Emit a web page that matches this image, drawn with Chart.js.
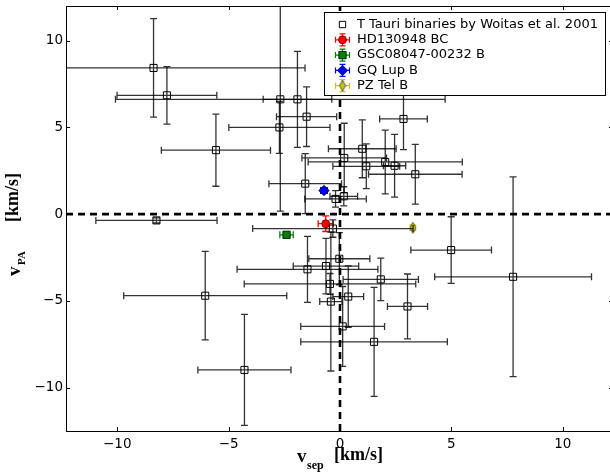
<!DOCTYPE html>
<html>
<head>
<meta charset="utf-8">
<script src="https://cdn.jsdelivr.net/npm/chart.js@4.4.1/dist/chart.umd.min.js"></script>
<style>
  html, body { margin: 0; padding: 0; overflow: hidden; background: #fff; }
</style>
</head>
<body>
<canvas id="myChart" width="620" height="476"></canvas>
<script>
// T Tauri binaries (Woitas et al. 2001): v_sep, v_PA and their errors [km/s]
var tt_x    = [-8.37, -7.77, -5.57, -2.68, -1.91, -2.72, -1.50, 2.85, 1.00, 0.19, 1.18, 2.03, 2.45, 3.38, -1.56, -0.20, 0.17,
               -8.24, -0.32, 4.99, 7.77, -0.03, -0.63, -1.46, 1.83, -0.45, 0.37, -0.41, 0.12, 1.53, 3.03, -6.05, -4.29];
var tt_y    = [8.43, 6.85, 3.69, 6.62, 6.62, 5.00, 5.62, 5.49, 3.77, 3.24, 2.76, 3.01, 2.79, 2.30, 1.76, 0.88, 1.03,
               -0.36, -0.83, -2.07, -3.61, -2.57, -2.99, -3.18, -3.76, -4.02, -4.75, -5.04, -6.47, -7.36, -5.32, -4.70, -8.98];
var tt_xerr = [6.80, 2.24, 2.45, 7.40, 1.54, 2.27, 1.35, 1.07, 1.52, 1.90, 1.50, 3.46, 0.50, 2.10, 1.63, 1.38, 0.62,
               2.72, 3.60, 1.81, 3.52, 1.37, 1.47, 3.16, 1.69, 3.85, 0.69, 0.50, 1.88, 3.29, 0.90, 3.66, 2.09];
var tt_yerr = [2.84, 1.66, 2.08, 6.45, 2.77, 1.50, 1.72, 1.77, 1.67, 2.00, 1.29, 1.84, 1.81, 1.72, 1.73, 0.48, 0.55,
               0.15, 0.50, 1.92, 5.76, 1.50, 1.60, 1.90, 1.22, 0.60, 1.77, 4.00, 2.30, 3.14, 1.87, 2.55, 3.20];

// companions
var hd_x = [-0.64], hd_y = [-0.55], hd_xerr = [0.34], hd_yerr = [0.45];
var gsc_x = [-2.40], gsc_y = [-1.19], gsc_xerr = [0.30], gsc_yerr = [0.10];
var gq_x = [-0.72], gq_y = [1.36], gq_xerr = [0.15], gq_yerr = [0.15];
var pz_x = [3.27], pz_y = [-0.79], pz_xerr = [0.08], pz_yerr = [0.15];

var labels = ['T Tauri binaries by Woitas et al. 2001', 'HD130948 BC', 'GSC08047-00232 B', 'GQ Lup B', 'PZ Tel B'];
var xTicks = [-10, -5, 0, 5, 10];
var yTicks = [-10, -5, 0, 5, 10];
var xMin = -12.3, xMax = 12.3, yMin = -12.5, yMax = 12;

function pts(xs, ys) {
  return xs.map(function (x, i) { return { x: x, y: ys[i] }; });
}

function minus(v) {
  return v < 0 ? '\u2212' + Math.abs(v) : String(v);
}

// thin diamond marker for PZ Tel B
function thinDiamond(w, h, fill) {
  var c = document.createElement('canvas');
  c.width = w + 2; c.height = h + 2;
  var g = c.getContext('2d');
  g.beginPath();
  g.moveTo(c.width / 2, 1);
  g.lineTo(c.width - 1, c.height / 2);
  g.lineTo(c.width / 2, c.height - 1);
  g.lineTo(1, c.height / 2);
  g.closePath();
  g.fillStyle = fill; g.fill();
  g.lineWidth = 0.8; g.strokeStyle = '#333'; g.stroke();
  return c;
}
var pzMarker = thinDiamond(6, 11, 'rgb(200,200,0)');

// draw the error bars of a dataset just below its markers
var errorBars = {
  id: 'errorBars',
  beforeDatasetDraw: function (chart, args) {
    var ds = chart.data.datasets[args.index];
    if (!ds.errX) return;
    var xs = chart.scales.x, ys = chart.scales.y, ctx = chart.ctx, a = chart.chartArea;
    var cap = 3.5;
    ctx.save();
    ctx.beginPath();
    ctx.rect(a.left, a.top, a.right - a.left, a.bottom - a.top);
    ctx.clip();
    ctx.strokeStyle = ds.errColor;
    ctx.lineWidth = 1.3;
    ds.data.forEach(function (p, i) {
      var px = xs.getPixelForValue(p.x), py = ys.getPixelForValue(p.y);
      var x0 = xs.getPixelForValue(p.x - ds.errX[i]), x1 = xs.getPixelForValue(p.x + ds.errX[i]);
      var y0 = ys.getPixelForValue(p.y - ds.errY[i]), y1 = ys.getPixelForValue(p.y + ds.errY[i]);
      ctx.beginPath();
      ctx.moveTo(x0, py); ctx.lineTo(x1, py);
      ctx.moveTo(x0, py - cap); ctx.lineTo(x0, py + cap);
      ctx.moveTo(x1, py - cap); ctx.lineTo(x1, py + cap);
      ctx.moveTo(px, y0); ctx.lineTo(px, y1);
      ctx.moveTo(px - cap, y0); ctx.lineTo(px + cap, y0);
      ctx.moveTo(px - cap, y1); ctx.lineTo(px + cap, y1);
      ctx.stroke();
    });
    ctx.restore();
  }
};

function drawMarker(ctx, ds, x, y) {
  ctx.save();
  ctx.fillStyle = ds.pointBackgroundColor;
  ctx.strokeStyle = ds.pointBorderColor;
  ctx.lineWidth = ds.pointBorderWidth;
  var r = ds.pointRadius;
  if (ds.pointStyle === 'rect') {
    var s = r * Math.SQRT1_2;
    ctx.beginPath(); ctx.rect(x - s, y - s, 2 * s, 2 * s);
    ctx.fill(); ctx.stroke();
  } else if (ds.pointStyle === 'circle') {
    ctx.beginPath(); ctx.arc(x, y, r, 0, Math.PI * 2);
    ctx.fill(); ctx.stroke();
  } else if (ds.pointStyle === 'rectRot') {
    ctx.beginPath();
    ctx.moveTo(x, y - r); ctx.lineTo(x + r, y); ctx.lineTo(x, y + r); ctx.lineTo(x - r, y);
    ctx.closePath(); ctx.fill(); ctx.stroke();
  } else {
    ctx.drawImage(ds.pointStyle, x - ds.pointStyle.width / 2, y - ds.pointStyle.height / 2);
  }
  ctx.restore();
}

// frame, inward ticks, legend, axis titles
var decorations = {
  id: 'decorations',
  afterDraw: function (chart) {
    var ctx = chart.ctx, a = chart.chartArea;
    var xs = chart.scales.x, ys = chart.scales.y;
    ctx.save();
    ctx.strokeStyle = '#000';
    ctx.lineWidth = 1;
    ctx.strokeRect(Math.round(a.left) + 0.5, Math.round(a.top) + 0.5,
                   Math.round(a.right - a.left) - 1, Math.round(a.bottom - a.top));
    ctx.beginPath();
    xTicks.forEach(function (v) {
      var px = Math.round(xs.getPixelForValue(v)) + 0.5;
      ctx.moveTo(px, a.bottom); ctx.lineTo(px, a.bottom - 4);
      ctx.moveTo(px, a.top); ctx.lineTo(px, a.top + 4);
    });
    yTicks.forEach(function (v) {
      var py = Math.round(ys.getPixelForValue(v)) + 0.5;
      ctx.moveTo(a.left, py); ctx.lineTo(a.left + 4, py);
      ctx.moveTo(a.right - 1, py); ctx.lineTo(a.right - 5, py);
    });
    ctx.stroke();

    // legend
    var lx = 324.5, ly = 12.5, lw = 281, lh = 83;
    ctx.fillStyle = '#fff';
    ctx.fillRect(lx, ly, lw, lh);
    ctx.strokeRect(lx, ly, lw, lh);
    ctx.font = '13px "DejaVu Sans"';
    ctx.textBaseline = 'middle';
    ctx.textAlign = 'left';
    chart.data.datasets.forEach(function (ds, i) {
      if (!ds.label) return;
      var ry = 24.5 + i * 15.3, mx = 342.5;
      if (ds.errX && i > 0) {
        ctx.strokeStyle = ds.errColor;
        ctx.lineWidth = 1.2;
        ctx.beginPath();
        ctx.moveTo(mx - 7, ry); ctx.lineTo(mx + 7, ry);
        ctx.moveTo(mx - 7, ry - 3); ctx.lineTo(mx - 7, ry + 3);
        ctx.moveTo(mx + 7, ry - 3); ctx.lineTo(mx + 7, ry + 3);
        ctx.moveTo(mx, ry - 6); ctx.lineTo(mx, ry + 6);
        ctx.moveTo(mx - 3, ry - 6); ctx.lineTo(mx + 3, ry - 6);
        ctx.moveTo(mx - 3, ry + 6); ctx.lineTo(mx + 3, ry + 6);
        ctx.stroke();
      }
      drawMarker(ctx, Object.assign({}, ds, { pointBackgroundColor: i === 0 ? '#fff' : ds.pointBackgroundColor,
                                               pointRadius: i === 0 ? 4.5 : ds.pointRadius }), mx, ry);
      ctx.fillStyle = '#000';
      ctx.fillText(ds.label, 357, ry);
    });

    // axis titles
    ctx.fillStyle = '#000';
    ctx.textBaseline = 'alphabetic';
    ctx.font = 'bold 19px "Liberation Serif"';
    ctx.fillText('v', 297, 462);
    ctx.font = 'bold 12px "Liberation Serif"';
    ctx.fillText('sep', 307, 469);
    ctx.font = 'bold 18px "Liberation Serif"';
    ctx.fillText('[km/s]', 334, 459.5);

    ctx.translate(20, 276);
    ctx.rotate(-Math.PI / 2);
    ctx.font = 'bold 19px "Liberation Serif"';
    ctx.fillText('v', 0, 0);
    ctx.font = 'bold 11px "Liberation Serif"';
    ctx.fillText('PA', 11, 5);
    ctx.font = 'bold 18px "Liberation Serif"';
    ctx.fillText('[km/s]', 54, -2.5);
    ctx.restore();
  }
};

function refLine(x0, y0, x1, y1) {
  return {
    type: 'line',
    data: [{ x: x0, y: y0 }, { x: x1, y: y1 }],
    borderColor: '#000',
    borderWidth: 2.6,
    borderDash: [7, 5],
    pointRadius: 0,
    order: 10
  };
}

function errSet(label, xs, ys, xe, ye, color, style, radius, fill, edge) {
  return {
    label: label,
    data: pts(xs, ys),
    errX: xe, errY: ye,
    errColor: color,
    pointStyle: style,
    pointRadius: radius,
    pointBackgroundColor: fill,
    pointBorderColor: edge,
    pointBorderWidth: 0.8,
    showLine: false
  };
}

var datasets = [
  errSet(labels[0], tt_x, tt_y, tt_xerr, tt_yerr, 'rgba(0,0,0,0.8)', 'rect', 5, 'rgba(0,0,0,0)', '#000'),
  errSet(labels[1], hd_x, hd_y, hd_xerr, hd_yerr, 'rgb(255,0,0)', 'circle', 4, 'rgb(255,0,0)', '#600'),
  errSet(labels[2], gsc_x, gsc_y, gsc_xerr, gsc_yerr, 'rgb(0,128,0)', 'rect', 5.2, 'rgb(0,128,0)', '#000'),
  errSet(labels[3], gq_x, gq_y, gq_xerr, gq_yerr, 'rgb(0,0,255)', 'rectRot', 5.2, 'rgb(0,0,255)', '#003'),
  errSet(labels[4], pz_x, pz_y, pz_xerr, pz_yerr, 'rgb(200,200,0)', pzMarker, 5, 'rgb(200,200,0)', '#333'),
  refLine(xMin, 0, xMax, 0),
  refLine(0, yMin, 0, yMax)
];
datasets[0].pointBorderWidth = 1;

function fixBox(w, h) {
  return function (s) {
    if (w) s.width = w;
    if (h) s.height = h;
    s.paddingLeft = 0; s.paddingRight = 0; s.paddingTop = 0; s.paddingBottom = 0;
  };
}

var ctx = document.getElementById('myChart').getContext('2d');
var chart = new Chart(ctx, {
  type: 'scatter',
  data: { datasets: datasets },
  plugins: [errorBars, decorations],
  options: {
    responsive: false,
    animation: false,
    events: [],
    layout: { padding: { top: 6, right: 0, left: 0, bottom: 0 } },
    plugins: {
      legend: { display: false },
      tooltip: { enabled: false }
    },
    scales: {
      x: {
        type: 'linear',
        min: xMin, max: xMax,
        grid: { display: false, drawTicks: false },
        border: { display: false },
        ticks: {
          stepSize: 5, includeBounds: false, padding: 5,
          color: '#000', font: { family: 'DejaVu Sans', size: 13.5 },
          maxRotation: 0,
          callback: function (v) { return minus(v); }
        },
        afterFit: fixBox(0, 45)
      },
      y: {
        type: 'linear',
        min: yMin, max: yMax,
        grid: { display: false, drawTicks: false },
        border: { display: false },
        ticks: {
          stepSize: 5, includeBounds: false, padding: 3,
          color: '#000', font: { family: 'DejaVu Sans', size: 13.5 },
          callback: function (v) { return minus(v); }
        },
        afterFit: fixBox(66, 0)
      }
    }
  }
});
</script>
</body>
</html>
